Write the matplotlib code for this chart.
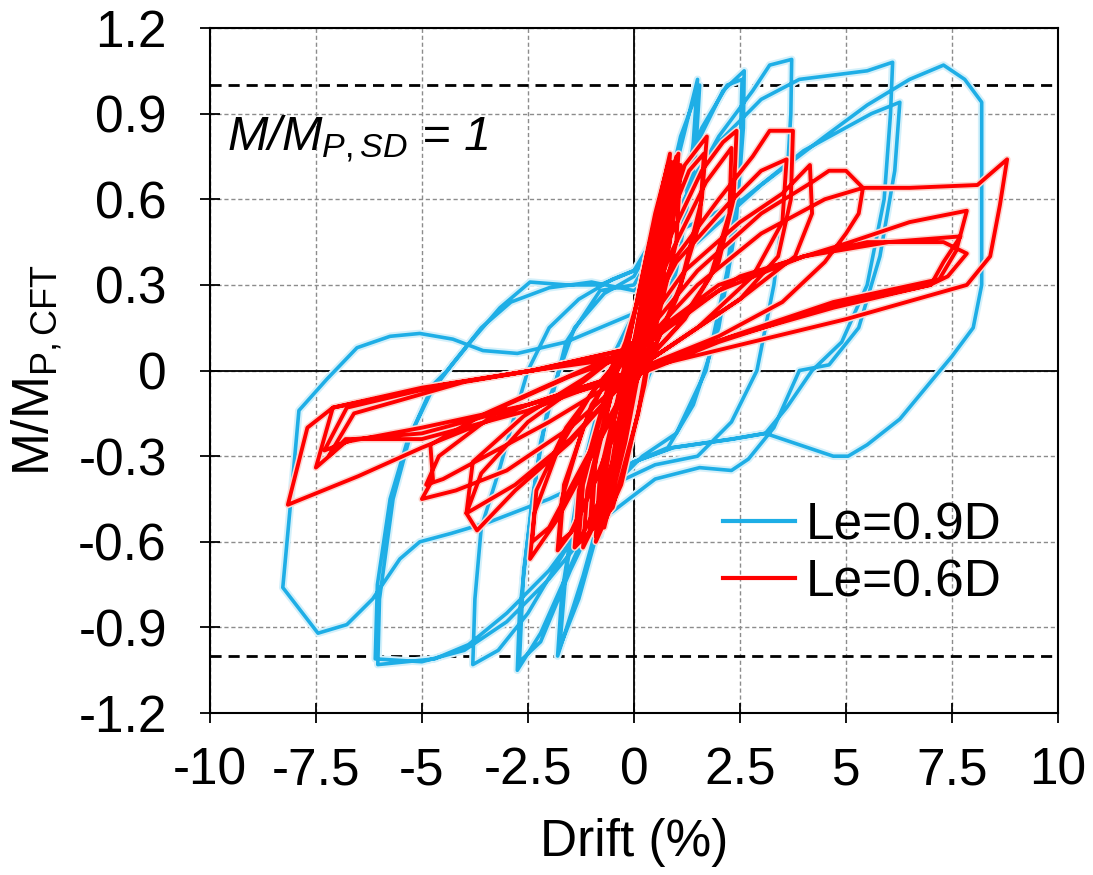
import matplotlib
matplotlib.use('Agg')
import matplotlib.pyplot as plt
import matplotlib.patheffects as pe

plt.rcParams['font.family'] = ['Liberation Sans', 'DejaVu Sans']
plt.rcParams['mathtext.fontset'] = 'custom'
plt.rcParams['mathtext.rm'] = 'Liberation Sans'
plt.rcParams['mathtext.it'] = 'Liberation Sans:italic'
plt.rcParams['axes.unicode_minus'] = False

# ---- Le=0.9D  (drift %, M/Mp) one list of vertices per cycle ----
b1 = [(0, 0), (0.4, 0.3), (0.8, 0.6), (0.7, 0.4), (0.3, 0.1), (0, -0.03), (-0.4, -0.3),
      (-0.8, -0.58), (-0.7, -0.4), (-0.3, -0.1), (0, 0.03)]
b2 = [(0.5, 0.35), (1.0, 0.72), (1.5, 1.02), (1.4, 0.8), (1.1, 0.45), (0.6, 0.12), (0, -0.12),
      (-0.6, -0.4), (-1.2, -0.72), (-1.8, -1.0), (-1.7, -0.78), (-1.3, -0.4), (-0.7, -0.05), (0, 0.15)]
b2b = [(0.6, 0.5), (1.1, 0.82), (1.55, 1.0), (1.45, 0.75), (1.0, 0.35), (0.4, 0.0), (0, -0.15),
       (-0.7, -0.48), (-1.3, -0.8), (-1.75, -0.97), (-1.6, -0.7), (-1.1, -0.3), (-0.5, 0.05), (0, 0.2)]
b3 = [(0.8, 0.5), (1.5, 0.8), (2.1, 0.98), (2.6, 1.05), (2.58, 0.85), (2.4, 0.5), (2.0, 0.15),
      (1.4, -0.12), (0.8, -0.27), (0, -0.32), (-0.8, -0.45), (-1.6, -0.72), (-2.2, -0.92),
      (-2.75, -1.05), (-2.7, -0.85), (-2.4, -0.45), (-2.0, -0.1), (-1.4, 0.15), (-0.7, 0.27), (0, 0.33)]
b3b = [(0.8, 0.55), (1.6, 0.85), (2.2, 1.0), (2.55, 1.02), (2.5, 0.75), (2.2, 0.35), (1.7, 0.0),
       (1.0, -0.22), (0.2, -0.3), (-0.6, -0.42), (-1.5, -0.7), (-2.2, -0.95), (-2.7, -1.02),
       (-2.6, -0.7), (-2.2, -0.25), (-1.6, 0.1), (-0.8, 0.28), (0, 0.3)]
b4 = [(1.0, 0.55), (2.0, 0.82), (2.8, 0.98), (3.2, 1.07), (3.72, 1.09), (3.7, 0.9), (3.6, 0.65),
      (3.3, 0.3), (2.9, 0.0), (2.3, -0.18), (1.5, -0.3), (0.5, -0.33), (-0.5, -0.4), (-1.5, -0.6),
      (-2.5, -0.85), (-3.2, -0.98), (-3.8, -1.03), (-3.75, -0.8), (-3.6, -0.55), (-3.16, -0.34),
      (-2.8, -0.15), (-2.5, 0.0), (-2.0, 0.15), (-1.3, 0.25), (-0.5, 0.32), (0, 0.35)]
b5 = [(1.0, 0.6), (2.0, 0.8), (3.0, 0.95), (3.9, 1.02), (5.5, 1.05), (6.1, 1.08), (6.05, 0.9),
      (5.9, 0.6), (5.5, 0.3), (4.9, 0.1), (4.2, 0.0), (3.6, -0.13), (3.1, -0.22), (2.3, -0.24),
      (0.9, -0.27), (0, -0.32), (-1.0, -0.5), (-2.0, -0.7), (-3.0, -0.85), (-3.9, -0.96),
      (-4.7, -1.01), (-6.04, -1.03), (-6.0, -0.8), (-5.68, -0.45), (-5.28, -0.23), (-4.74, -0.05),
      (-4.4, -0.0), (-3.8, 0.11), (-3.16, 0.22), (-2.45, 0.31), (-1.58, 0.30), (-0.8, 0.3), (0, 0.35)]
b6 = [(1.2, 0.5), (2.57, 0.6), (4.0, 0.77), (5.6, 0.9), (6.27, 0.94), (6.15, 0.7), (5.8, 0.4),
      (5.3, 0.15), (4.6, 0.02), (3.9, 0.0), (3.3, -0.2), (2.7, -0.31), (2.3, -0.35), (1.55, -0.34),
      (0.5, -0.38), (-1.0, -0.55), (-2.0, -0.73), (-3.0, -0.88), (-4.0, -0.98), (-5.0, -1.02),
      (-6.1, -1.01), (-6.05, -0.75), (-5.75, -0.45), (-5.35, -0.25), (-4.8, -0.08), (-4.3, 0.02),
      (-3.6, 0.15), (-2.9, 0.24), (-2.0, 0.29), (-1.0, 0.31), (0, 0.28)]
b7 = [(1.5, 0.45), (3.0, 0.65), (4.5, 0.82), (5.5, 0.93), (6.5, 1.02), (7.3, 1.07), (7.8, 1.02),
      (8.2, 0.94), (8.2, 0.6), (8.2, 0.3), (8.0, 0.15), (7.5, 0.05), (7.05, -0.03), (6.27, -0.17),
      (5.5, -0.26), (5.05, -0.30), (4.7, -0.30), (3.9, -0.26), (3.1, -0.22), (2.33, -0.24),
      (0.93, -0.27), (0, -0.32), (-1.0, -0.38), (-2.0, -0.45), (-3.4, -0.53), (-4.3, -0.57),
      (-5.05, -0.60), (-5.52, -0.66), (-6.16, -0.80), (-6.77, -0.89), (-7.45, -0.92),
      (-8.28, -0.76), (-8.1, -0.47), (-7.9, -0.14), (-7.24, -0.03), (-6.53, 0.08), (-5.75, 0.12),
      (-5.05, 0.13), (-4.27, 0.11), (-3.56, 0.07), (-2.75, 0.06), (-1.6, 0.1), (0, 0.2)]

# ---- Le=0.6D ----
r1 = [(0, 0), (0.3, 0.25), (0.5, 0.42), (0.4, 0.25), (0, -0.02), (-0.3, -0.25), (-0.5, -0.4),
      (-0.4, -0.22), (0, 0.02)]
r2 = [(0.4, 0.35), (0.75, 0.62), (0.65, 0.4), (0.2, 0.05), (0, -0.05), (-0.4, -0.35),
      (-0.8, -0.52), (-0.7, -0.32), (-0.2, 0.0), (0, 0.05)]
r2b = [(0.35, 0.35), (0.7, 0.66), (0.6, 0.42), (0.1, 0.0), (-0.5, -0.42), (-0.9, -0.58),
       (-0.8, -0.36), (-0.2, 0.02), (0, 0.06)]
r3 = [(0.5, 0.45), (1.0, 0.75), (0.9, 0.5), (0.4, 0.1), (0, -0.05), (-0.6, -0.4), (-1.05, -0.57),
      (-0.95, -0.35), (-0.4, 0.0), (0, 0.08)]
r3b = [(0.55, 0.45), (1.1, 0.72), (1.0, 0.45), (0.4, 0.08), (0, -0.06), (-0.7, -0.42),
       (-1.3, -0.6), (-1.2, -0.4), (-0.5, 0.0), (0, 0.08)]
r3c = [(0.45, 0.48), (0.9, 0.73), (0.8, 0.5), (0.3, 0.12), (-0.1, -0.1), (-0.8, -0.5),
       (-1.2, -0.62), (-1.1, -0.42), (-0.4, 0.02), (0, 0.1)]
r3d = [(0.5, 0.5), (0.95, 0.7), (0.85, 0.45), (0.2, 0.05), (-0.5, -0.35), (-1.0, -0.55),
       (-0.9, -0.3), (-0.3, 0.05), (0, 0.1)]
r3e = [(-0.2, 0.05), (0.3, 0.4), (0.85, 0.76), (0.75, 0.5), (0.45, 0.15), (0.1, -0.15),
       (-0.5, -0.48), (-1.4, -0.62), (-1.3, -0.42), (-0.6, -0.05), (-0.2, 0.1)]
r3f = [(0.2, 0.3), (0.65, 0.62), (1.05, 0.76), (0.95, 0.55), (0.55, 0.22), (0.25, -0.05),
       (-0.3, -0.4), (-0.9, -0.6), (-0.75, -0.45), (-0.5, -0.2), (-0.1, 0.12)]
r3g = [(0.5, 0.55), (0.8, 0.72), (0.7, 0.52), (0.35, 0.18), (-0.2, -0.25), (-0.7, -0.55),
       (-0.6, -0.4), (-0.3, -0.12), (0.1, 0.15)]
r4 = [(0.6, 0.45), (1.2, 0.72), (1.72, 0.82), (1.6, 0.6), (1.1, 0.3), (0.4, 0.05), (0, -0.05),
      (-0.8, -0.35), (-1.4, -0.55), (-1.8, -0.63), (-1.7, -0.45), (-1.2, -0.2), (-0.5, 0.02), (0, 0.1)]
r4b = [(0.7, 0.48), (1.3, 0.7), (1.65, 0.76), (1.55, 0.52), (1.0, 0.25), (0.3, 0.02), (0, -0.04),
       (-0.9, -0.38), (-1.5, -0.57), (-1.75, -0.6), (-1.65, -0.4), (-1.0, -0.12), (0, 0.1)]
r5 = [(0.8, 0.45), (1.6, 0.7), (2.1, 0.8), (2.42, 0.84), (2.35, 0.6), (2.0, 0.38), (1.2, 0.18),
      (0.4, 0.05), (0, -0.02), (-1.0, -0.3), (-1.8, -0.52), (-2.45, -0.66), (-2.35, -0.5),
      (-1.8, -0.28), (-1.0, -0.08), (0, 0.1)]
r5b = [(0.9, 0.42), (1.7, 0.66), (2.3, 0.78), (2.25, 0.55), (1.8, 0.33), (1.0, 0.15), (0, -0.01),
       (-1.1, -0.3), (-2.0, -0.55), (-2.4, -0.6), (-2.3, -0.42), (-1.6, -0.2), (-0.8, -0.04), (0, 0.1)]
r6 = [(1.0, 0.4), (2.0, 0.6), (2.8, 0.75), (3.2, 0.84), (3.75, 0.84), (3.7, 0.6), (3.4, 0.4),
      (2.5, 0.25), (1.2, 0.12), (0, 0.0), (-1.5, -0.25), (-2.8, -0.42), (-3.7, -0.56),
      (-3.95, -0.5), (-3.6, -0.36), (-2.5, -0.18), (-1.2, -0.04), (0, 0.1)]
r6b = [(1.0, 0.38), (2.2, 0.58), (3.0, 0.7), (3.6, 0.74), (3.5, 0.52), (2.8, 0.33), (1.5, 0.15),
       (0, 0.0), (-1.5, -0.24), (-2.8, -0.4), (-3.95, -0.5), (-3.8, -0.32), (-2.6, -0.16),
       (-1.2, -0.03), (0, 0.1)]
r7 = [(1.2, 0.35), (2.5, 0.52), (3.5, 0.62), (4.15, 0.72), (4.2, 0.55), (3.8, 0.4), (2.5, 0.25),
      (1.0, 0.1), (0, 0), (-1.5, -0.2), (-3.0, -0.35), (-4.2, -0.42), (-5.0, -0.45), (-4.74, -0.38),
      (-4.8, -0.26), (-3.5, -0.15), (-2.0, -0.05), (0, 0.08)]
r8 = [(1.5, 0.35), (3.0, 0.55), (4.2, 0.66), (4.6, 0.7), (5.0, 0.70), (5.4, 0.64), (5.3, 0.55),
      (5.0, 0.48), (4.5, 0.38), (3.5, 0.24), (2.0, 0.12), (0, 0), (-2.0, -0.18), (-3.5, -0.3),
      (-4.5, -0.38), (-4.9, -0.4), (-4.6, -0.3), (-3.0, -0.12), (-1.5, -0.02), (0, 0.06)]
r9 = [(2.0, 0.28), (4.0, 0.4), (5.5, 0.45), (7.3, 0.45), (7.85, 0.41), (7.4, 0.33), (6.98, 0.30),
      (4.7, 0.22), (2.33, 0.12), (0, 0), (-2.5, -0.12), (-5.0, -0.2), (-6.8, -0.25), (-7.5, -0.34),
      (-7.1, -0.13), (-4.5, -0.05), (-2.4, 0.0), (0, 0.08)]
r10 = [(2.0, 0.3), (4.0, 0.4), (6.0, 0.45), (7.7, 0.47), (7.3, 0.38), (7.0, 0.3), (4.5, 0.22),
       (2.0, 0.1), (0, -0.02), (-2.5, -0.12), (-5.0, -0.22), (-6.6, -0.24), (-7.3, -0.28),
       (-6.77, -0.13), (-4.5, -0.05), (-2.4, 0.0), (0, 0.08)]
r11 = [(2.5, 0.33), (5.1, 0.45), (6.5, 0.52), (7.85, 0.56), (7.6, 0.42), (7.2, 0.32), (4.7, 0.24),
       (2.3, 0.12), (0, 0), (-2.5, -0.14), (-5.0, -0.24), (-6.8, -0.24), (-7.2, -0.3),
       (-6.6, -0.15), (-4.0, -0.04), (0, 0.06)]
r12 = [(1.5, 0.3), (3.0, 0.48), (4.5, 0.6), (5.4, 0.64), (6.5, 0.64), (8.1, 0.65), (8.8, 0.74),
       (8.63, 0.58), (8.4, 0.40), (7.85, 0.30), (5.0, 0.18), (2.5, 0.09), (0, 0), (-2.5, -0.12),
       (-5.0, -0.27), (-6.5, -0.37), (-8.16, -0.47), (-7.7, -0.2), (-7.1, -0.13), (-5.0, -0.06),
       (-2.4, 0.0), (0, 0.05)]

blue_cycles = [b1, b2, b2b, b3, b3b, b4, b5, b6, b7]
red_cycles = [r1, r2, r2b, r3, r3b, r3c, r3d, r3e, r3f, r3g, r4, r4b, r5, r5b, r6, r6b,
              r7, r8, r9, r10, r11, r12]

x_ticks = [-10, -7.5, -5, -2.5, 0, 2.5, 5, 7.5, 10]
x_labels = ['-10', '-7.5', '-5', '-2.5', '0', '2.5', '5', '7.5', '10']
y_ticks = [1.2, 0.9, 0.6, 0.3, 0, -0.3, -0.6, -0.9, -1.2]
y_labels = ['1.2', '0.9', '0.6', '0.3', '0', '-0.3', '-0.6', '-0.9', '-1.2']

blue = '#1eaee6'
red = '#ff0000'

fig = plt.figure(figsize=(10.93, 8.75), dpi=100)
ax = fig.add_axes([0.192, 0.185, 0.776, 0.783])


def flatten(cycles):
    pts = [p for c in cycles for p in c]
    return [p[0] for p in pts], [p[1] for p in pts]


bx, by = flatten(blue_cycles)
rx, ry = flatten(red_cycles)

ax.plot(bx, by, color=blue, lw=2.6, zorder=3, label='Le=0.9D',
        path_effects=[pe.Stroke(linewidth=5.5, foreground='#d4f0fa'), pe.Normal()])
ax.plot(rx, ry, color=red, lw=2.8, zorder=4, label='Le=0.6D',
        path_effects=[pe.Stroke(linewidth=5, foreground='#fbd6d0'), pe.Normal()])

ax.axhline(1.0, color='black', ls=(0, (4, 2.5)), lw=2, zorder=2)
ax.axhline(-1.0, color='black', ls=(0, (4, 2.5)), lw=2, zorder=2)
ax.axhline(0, color='black', lw=1.3, zorder=2)
ax.axvline(0, color='black', lw=1.3, zorder=2)

ax.set_xlim(-10, 10)
ax.set_ylim(-1.2, 1.2)
ax.set_xticks(x_ticks)
ax.set_xticklabels(x_labels)
ax.set_yticks(y_ticks)
ax.set_yticklabels(y_labels)
ax.grid(True, color='#8c8c8c', ls=(0, (3, 2)), lw=1)
ax.set_axisbelow(True)
ax.tick_params(axis='both', direction='inout', length=14, width=1.3, labelsize=37)
ax.tick_params(axis='y', pad=24)
ax.tick_params(axis='x', pad=17)
for s in ax.spines.values():
    s.set_linewidth(1.5)

ax.set_xlabel('Drift (%)', fontsize=37, labelpad=16)
ax.set_ylabel(r'M/M$_{\mathregular{P,CFT}}$', fontsize=37, labelpad=10)

ax.text(-9.6, 0.77, r'M/M$_{P,SD}$ = 1', fontsize=35, style='italic', zorder=5)

leg = ax.legend(loc='center left', bbox_to_anchor=(0.575, 0.232), frameon=False,
                fontsize=37, handlelength=1.4, handletextpad=0.2, labelspacing=0.15,
                borderpad=0)
for h in leg.get_lines():
    h.set_linewidth(3)
    h.set_path_effects([])

fig.savefig('out.png', dpi=100)
